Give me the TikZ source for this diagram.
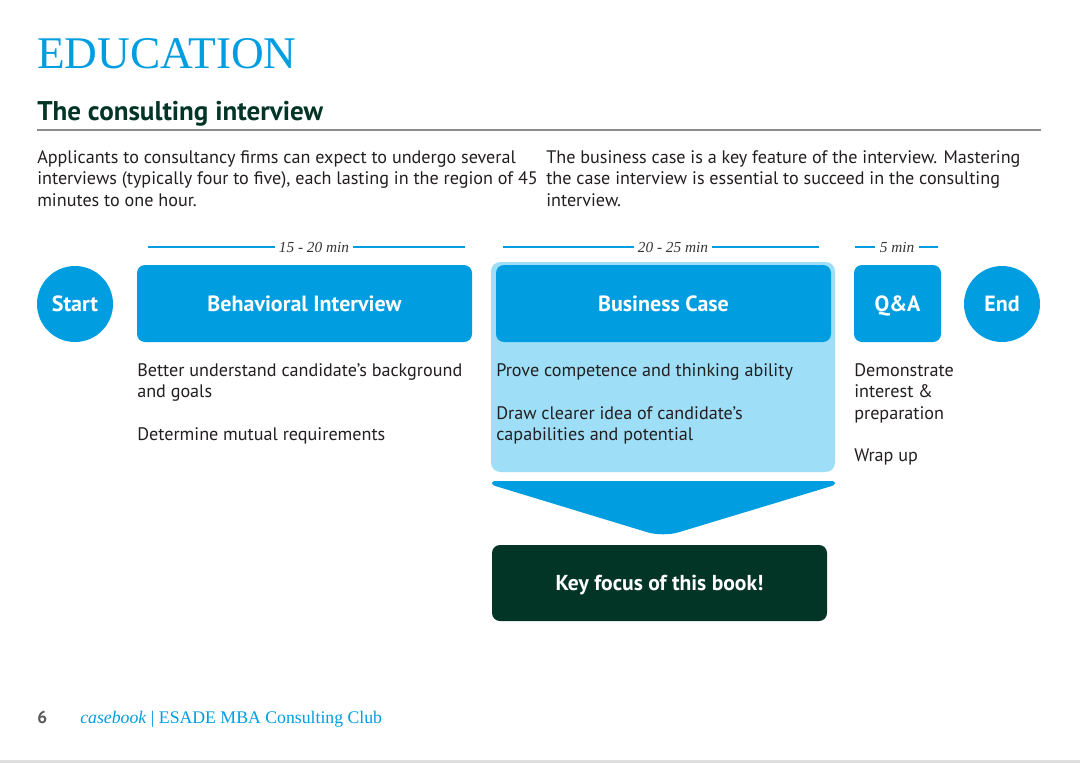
\documentclass[tikz,border=0pt]{standalone}
\usepackage{fontspec}
\setmainfont{PT Sans}
\newfontfamily\headserif{Liberation Serif}
\usetikzlibrary{positioning}
\definecolor{esblue}{RGB}{0,158,224}
\definecolor{eslight}{RGB}{158,223,247}
\definecolor{esgreen}{RGB}{3,53,38}
\definecolor{esink}{RGB}{35,31,32}
\definecolor{esrule}{RGB}{140,140,140}

\begin{document}
\begin{tikzpicture}[x=0.75pt, y=-0.75pt,
		bluebox/.style={rectangle, rounded corners=6pt, fill=esblue, text=white,
			font=\bfseries\fontsize{16.5}{18}\selectfont, text height=11.6pt, text depth=0pt,
			minimum height=57.75pt, inner sep=0pt},
		bluedot/.style={circle, fill=esblue, text=white,
			font=\bfseries\fontsize{16.5}{18}\selectfont, text height=11.6pt, text depth=0pt,
			minimum size=57pt, inner sep=0pt},
		body/.style={anchor=north west, inner sep=0pt, align=left, text=esink,
			font=\fontsize{13.6}{16.1}\selectfont},
		dur/.style={inner sep=3pt, text=esink!90, font=\headserif\itshape\fontsize{11.5}{13}\selectfont},
		durline/.style={esblue, line width=0.9pt}]
	\useasboundingbox (0,0) rectangle (1080,763);
	\fill[white] (0,0) rectangle (1080,763);

	% heading
	\node[anchor=base west, inner sep=0pt, text=esblue, font=\headserif\fontsize{34}{40}\selectfont] (title) at (37,69) {EDUCATION};
	\node[anchor=base west, inner sep=0pt, text=esgreen, font=\bfseries\fontsize{20.3}{24}\selectfont] (subtitle) at (37,121) {The consulting interview};
	\draw[esrule, line width=1pt] (37,130) -- (1041,130);
	\node[body] (introleft) at (37,150) {Applicants to consultancy firms can expect to undergo several\\interviews (typically four to five), each lasting in the region of 45\\minutes to one hour.};
	\node[body] (introright) at (546,150) {The business case is a key feature of the interview. Mastering\\the case interview is essential to succeed in the consulting\\interview.};

	% durations
	\node[dur] (durA) at (314,247) {15 - 20 min};
	\node[dur] (durB) at (673,247) {20 - 25 min};
	\node[dur] (durC) at (897,247) {5 min};
	\coordinate (durAl) at (148,247);
	\coordinate (durAr) at (465,247);
	\coordinate (durBl) at (503,247);
	\coordinate (durBr) at (819,247);
	\coordinate (durCl) at (855,247);
	\coordinate (durCr) at (938,247);
	\draw[durline] (durAl) -- (durA.west);
	\draw[durline] (durA.east) -- (durAr);
	\draw[durline] (durBl) -- (durB.west);
	\draw[durline] (durB.east) -- (durBr);
	\draw[durline] (durCl) -- (durC.west);
	\draw[durline] (durC.east) -- (durCr);

	% stages
	\fill[eslight, rounded corners=7pt] (491,262) rectangle (835,472);
	\node[bluedot] (start) at (75,304) {Start};
	\node[bluebox, minimum width=251.25pt] (behav) at (304.5,303.5) {Behavioral Interview};
	\node[bluebox, minimum width=251.25pt] (bcase) at (663.5,303.5) {Business Case};
	\node[bluebox, minimum width=65.25pt] (qa) at (897.5,303.5) {Q\&A};
	\node[bluedot] (end) at (1002,304) {End};

	\node[body] (behavtxt) at (137,363) {Better understand candidate’s background\\and goals\\[16.1pt]Determine mutual requirements};
	\node[body] (bcasetxt) at (496,363) {Prove competence and thinking ability\\[16.1pt]Draw clearer idea of candidate’s\\capabilities and potential};
	\node[body] (qatxt) at (854,363) {Demonstrate\\interest \&\\preparation\\[16.1pt]Wrap up};

	% focus
	\fill[esblue, rounded corners=2pt] (492,481) -- (835,481) -- (835,485)
		[rounded corners=12pt] -- (663,537) [rounded corners=2pt] -- (492,485) -- cycle;
	\node[rectangle, rounded corners=6pt, fill=esgreen, text=white, font=\bfseries\fontsize{16.2}{18}\selectfont,
		text height=11.4pt, text depth=0pt, minimum width=251.25pt, minimum height=57pt, inner sep=0pt] (focus) at (659.5,583) {Key focus of this book!};

	% footer
	\node[anchor=base west, inner sep=0pt, text=black!65, font=\bfseries\fontsize{13}{15}\selectfont] (pagenum) at (37,723) {6};
	\node[anchor=base west, inner sep=0pt, text=esblue, font=\headserif\fontsize{13.3}{15}\selectfont] (footer) at (80,723) {\textit{casebook} | ESADE MBA Consulting Club};
	\fill[black!13] (0,760) rectangle (1080,763);
\end{tikzpicture}
\end{document}
